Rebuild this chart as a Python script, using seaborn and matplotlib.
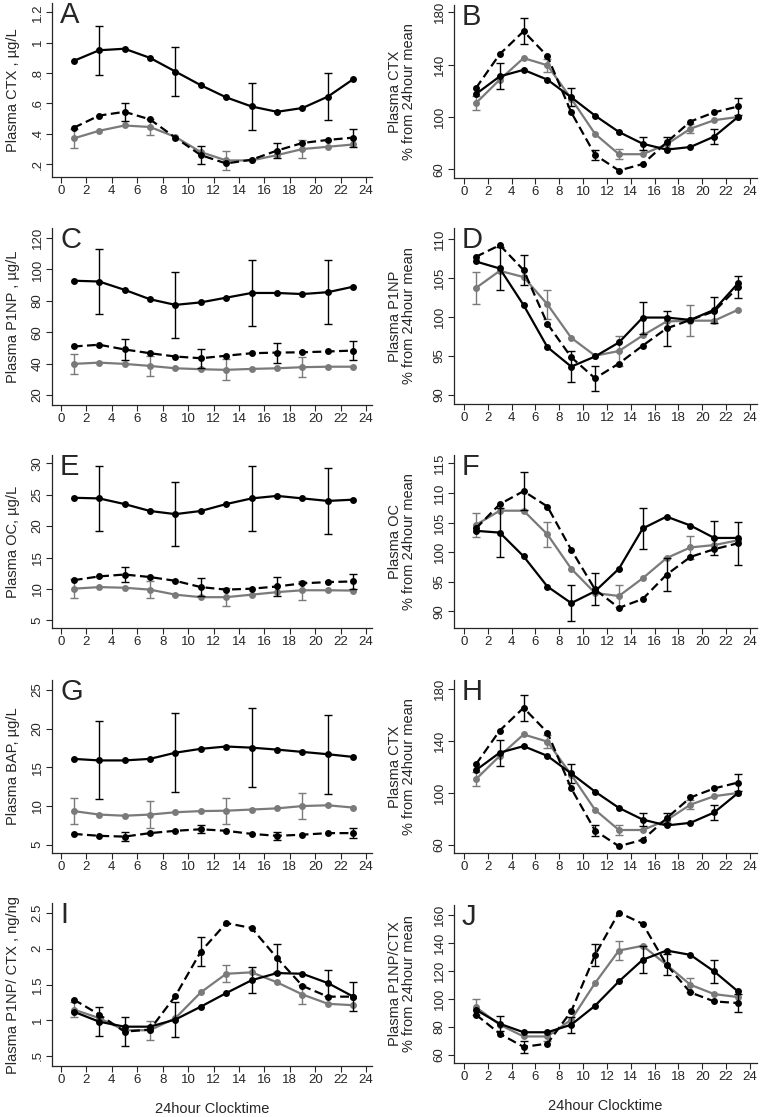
import matplotlib
matplotlib.use("Agg")
import matplotlib.pyplot as plt
import seaborn as sns

HOURS = [1, 3, 5, 7, 9, 11, 13, 15, 17, 19, 21, 23]
XTICKS = list(range(0, 25, 2))
# error bars are shown only every 6 hours, staggered per group
ERR_HOURS_SOLID = [3, 9, 15, 21]
ERR_HOURS_DASH = [5, 11, 17, 23]
ERR_HOURS_GREY = [1, 7, 13, 19]

# A: plasma CTX, ug/L
A_SOLID = [0.88, 0.95, 0.96, 0.90, 0.81, 0.72, 0.64, 0.58, 0.545, 0.57, 0.645, 0.76]
A_SOLID_ERR = [0.16, 0.16, 0.155, 0.155]
A_DASH = [0.44, 0.52, 0.545, 0.495, 0.375, 0.26, 0.205, 0.23, 0.29, 0.34, 0.36, 0.375]
A_DASH_ERR = [0.06, 0.06, 0.05, 0.06]
A_GREY = [0.37, 0.42, 0.455, 0.445, 0.38, 0.28, 0.225, 0.225, 0.26, 0.30, 0.315, 0.33]
A_GREY_ERR = [0.065, 0.055, 0.06, 0.06]

# B (and H): plasma CTX, % from 24 hour mean
B_SOLID = [117.5, 131, 136, 128.5, 115, 101, 88.5, 79.5, 75, 77, 85, 100]
B_SOLID_ERR = [10, 7, 5, 6]
B_DASH = [122, 148, 165.5, 146.5, 103.5, 71, 59, 64, 80.5, 96.5, 103.5, 108]
B_DASH_ERR = [10, 4, 4, 6.5]
B_GREY = [110.5, 128.5, 145, 139.5, 114, 87, 71.5, 71.5, 79, 91, 97.5, 100]
B_GREY_ERR = [5.5, 5, 4, 3.5]

# C: plasma P1NP, ug/L
C_SOLID = [92.8, 92.3, 87, 81, 77.4, 79, 82, 85, 85, 84.3, 85.5, 89]
C_SOLID_ERR = [20.7, 21, 21, 20.5]
C_DASH = [50.9, 52, 49, 46.6, 44.5, 43.4, 45, 46.6, 47, 47.2, 47.7, 48.3]
C_DASH_ERR = [6.7, 6, 6.4, 6.2]
C_GREY = [39.8, 40.6, 39.8, 38.5, 37, 36.4, 36, 36.6, 37, 37.7, 38, 38]
C_GREY_ERR = [6.6, 6.2, 6.6, 6.4]

# D: plasma P1NP, % from 24 hour mean
D_SOLID = [107.1, 106.2, 101.5, 96.1, 93.6, 94.9, 96.7, 99.9, 99.9, 99.6, 100.9, 104.3]
D_SOLID_ERR = [2.8, 2.0, 2.05, 1.7]
D_DASH = [107.7, 109.2, 106, 99.1, 94.8, 92.1, 94, 96.3, 98.5, 99.6, 100.7, 103.8]
D_DASH_ERR = [1.9, 1.6, 2.3, 1.4]
D_GREY = [103.7, 105.9, 105.1, 101.6, 97.3, 95.0, 95.6, 97.6, 99.4, 99.5, 99.5, 100.9]
D_GREY_ERR = [2.0, 1.9, 1.9, 2.0]

# E: plasma OC, ug/L
E_SOLID = [24.5, 24.4, 23.5, 22.4, 21.9, 22.4, 23.5, 24.4, 24.8, 24.4, 24.0, 24.2]
E_SOLID_ERR = [5.2, 5.1, 5.2, 5.2]
E_DASH = [11.4, 12.0, 12.3, 11.9, 11.3, 10.3, 9.9, 10.05, 10.4, 10.9, 11.1, 11.2]
E_DASH_ERR = [1.25, 1.4, 1.45, 1.25]
E_GREY = [10.05, 10.3, 10.2, 9.9, 9.1, 8.7, 8.7, 9.1, 9.5, 9.8, 9.8, 9.75]
E_GREY_ERR = [1.5, 1.4, 1.45, 1.5]

# F: plasma OC, % from 24 hour mean
F_SOLID = [103.6, 103.3, 99.3, 94.2, 91.4, 93.4, 97.2, 104.0, 106.0, 104.5, 102.4, 102.4]
F_SOLID_ERR = [4.15, 3.0, 3.5, 2.8]
F_DASH = [104.0, 108.1, 110.3, 107.7, 100.4, 93.7, 90.6, 92.1, 96.2, 99.2, 100.5, 101.5]
F_DASH_ERR = [3.2, 2.7, 2.8, 3.6]
F_GREY = [104.6, 107.0, 107.0, 103.0, 97.2, 93.1, 92.6, 95.6, 99.0, 100.8, 101.2, 102.0]
F_GREY_ERR = [2.0, 2.05, 1.9, 1.9]

# G: plasma BAP, ug/L
G_SOLID = [16.1, 15.9, 15.9, 16.1, 16.9, 17.4, 17.7, 17.55, 17.3, 17.0, 16.7, 16.35]
G_SOLID_ERR = [5.05, 5.1, 5.1, 5.1]
G_DASH = [6.4, 6.15, 6.05, 6.5, 6.8, 7.0, 6.8, 6.4, 6.15, 6.3, 6.5, 6.5]
G_DASH_ERR = [0.6, 0.5, 0.5, 0.6]
G_GREY = [9.35, 8.9, 8.75, 8.9, 9.2, 9.35, 9.4, 9.55, 9.7, 10.0, 10.1, 9.8]
G_GREY_ERR = [1.7, 1.7, 1.7, 1.65]

# I: plasma P1NP/CTX, ng/ng
I_SOLID = [1.12, 0.98, 0.91, 0.91, 1.01, 1.19, 1.38, 1.56, 1.66, 1.65, 1.52, 1.33]
I_SOLID_ERR = [0.2, 0.25, 0.18, 0.18]
I_DASH = [1.29, 1.08, 0.84, 0.87, 1.34, 1.96, 2.36, 2.29, 1.87, 1.48, 1.33, 1.33]
I_DASH_ERR = [0.2, 0.2, 0.2, 0.2]
I_GREY = [1.15, 1.03, 0.86, 0.86, 1.03, 1.39, 1.65, 1.67, 1.53, 1.36, 1.23, 1.21]
I_GREY_ERR = [0.1, 0.13, 0.12, 0.13]

# J: plasma P1NP/CTX, % from 24 hour mean
J_SOLID = [92.1, 82.1, 76, 76, 81.4, 95, 112.4, 127.9, 134.5, 131.4, 119.5, 105.2]
J_SOLID_ERR = [5.5, 5.7, 9.5, 8.3]
J_DASH = [88.6, 75, 65.5, 67.9, 91, 131.4, 161.7, 153.6, 124.3, 104.5, 98.1, 96.9]
J_DASH_ERR = [4.4, 8, 7.5, 6.3]
J_GREY = [94, 81.4, 73, 73, 85, 111.2, 134.5, 137.9, 124.3, 110, 103.3, 101.2]
J_GREY_ERR = [5.5, 3, 7, 5]

PCT = "% from 24hour mean"
GREY = "#7a7a7a"
TXT = "#262626"

W, H = 762, 1117
LEFT_COL = (52, 372, (-0.708, 24.47))
RIGHT_COL = (454, 757, (-0.839, 24.59))


def draw_series(ax, vals, errs, err_hours, color, ls):
    sns.lineplot(x=HOURS, y=vals, ax=ax, color=color, linestyle=ls, linewidth=1.6,
                 marker="o", markersize=5, markeredgewidth=0, errorbar=None)
    ey = [vals[HOURS.index(h)] for h in err_hours]
    ax.errorbar(err_hours, ey, yerr=errs, fmt="none", ecolor=color,
                elinewidth=1.0, capsize=3, capthick=1.0)


def make_panel(fig, letter, col, top, bottom, ylim, yticks, ytlabels, ylabel,
               solid, solid_err, dash, dash_err, grey, grey_err, xlabel=False):
    left, right, xlim = col
    ax = fig.add_axes([left / W, 1 - bottom / H, (right - left) / W, (bottom - top) / H])
    draw_series(ax, grey, grey_err, ERR_HOURS_GREY, GREY, "-")
    draw_series(ax, dash, dash_err, ERR_HOURS_DASH, "black", (0, (4, 2)))
    draw_series(ax, solid, solid_err, ERR_HOURS_SOLID, "black", "-")
    ax.set_xlim(*xlim)
    ax.set_ylim(*ylim)
    ax.set_xticks(XTICKS)
    ax.set_xticklabels([str(t) for t in XTICKS], fontsize=9.5)
    ax.set_yticks(yticks)
    ax.set_yticklabels(ytlabels, fontsize=9.5, rotation=90, va="center")
    ax.tick_params(direction="out", length=4, width=0.8, pad=2, colors=TXT)
    sns.despine(ax=ax)
    for s in ("left", "bottom"):
        ax.spines[s].set_linewidth(0.9)
        ax.spines[s].set_color(TXT)
    ax.set_ylabel(ylabel, fontsize=10.5, color=TXT, linespacing=1.0, va="center")
    if col is LEFT_COL:
        ax.yaxis.set_label_coords(-0.122, 0.5)
    else:
        ax.yaxis.set_label_coords(-0.17, 0.5)
    if xlabel:
        ax.set_xlabel("24hour Clocktime", fontsize=10.5, color=TXT, labelpad=11)
    else:
        ax.set_xlabel("")
    ax.text(0.025, 1.01, letter, transform=ax.transAxes, fontsize=21,
            va="top", ha="left")
    return ax


sns.set_style("ticks")
plt.rcParams["font.family"] = ["Liberation Sans", "DejaVu Sans"]

fig = plt.figure(figsize=(W / 100, H / 100), dpi=100)

make_panel(fig, "A", LEFT_COL, 3, 177, (0.116, 1.261), [0.2, 0.4, 0.6, 0.8, 1.0, 1.2],
           [".2", ".4", ".6", ".8", "1", "1.2"], "Plasma CTX , µg/L",
           A_SOLID, A_SOLID_ERR, A_DASH, A_DASH_ERR, A_GREY, A_GREY_ERR)
make_panel(fig, "B", RIGHT_COL, 5, 178, (53.3, 185.6), [60, 100, 140, 180],
           ["60", "100", "140", "180"], "Plasma CTX\n" + PCT,
           B_SOLID, B_SOLID_ERR, B_DASH, B_DASH_ERR, B_GREY, B_GREY_ERR)
make_panel(fig, "C", LEFT_COL, 228, 405, (13.6, 126.4), [20, 40, 60, 80, 100, 120],
           ["20", "40", "60", "80", "100", "120"], "Plasma P1NP , µg/L",
           C_SOLID, C_SOLID_ERR, C_DASH, C_DASH_ERR, C_GREY, C_GREY_ERR)
make_panel(fig, "D", RIGHT_COL, 228, 404, (88.8, 111.4), [90, 95, 100, 105, 110],
           ["90", "95", "100", "105", "110"], "Plasma P1NP\n" + PCT,
           D_SOLID, D_SOLID_ERR, D_DASH, D_DASH_ERR, D_GREY, D_GREY_ERR)
make_panel(fig, "E", LEFT_COL, 455, 628, (3.8, 31.3), [5, 10, 15, 20, 25, 30],
           ["5", "10", "15", "20", "25", "30"], "Plasma OC, µg/L",
           E_SOLID, E_SOLID_ERR, E_DASH, E_DASH_ERR, E_GREY, E_GREY_ERR)
make_panel(fig, "F", RIGHT_COL, 455, 628, (87.2, 116.4), [90, 95, 100, 105, 110, 115],
           ["90", "95", "100", "105", "110", "115"], "Plasma OC\n" + PCT,
           F_SOLID, F_SOLID_ERR, F_DASH, F_DASH_ERR, F_GREY, F_GREY_ERR)
make_panel(fig, "G", LEFT_COL, 680, 853, (3.93, 26.3), [5, 10, 15, 20, 25],
           ["5", "10", "15", "20", "25"], "Plasma BAP, µg/L",
           G_SOLID, G_SOLID_ERR, G_DASH, G_DASH_ERR, G_GREY, G_GREY_ERR)
make_panel(fig, "H", RIGHT_COL, 680, 853, (53.8, 186.9), [60, 100, 140, 180],
           ["60", "100", "140", "180"], "Plasma CTX\n" + PCT,
           B_SOLID, B_SOLID_ERR, B_DASH, B_DASH_ERR, B_GREY, B_GREY_ERR)
make_panel(fig, "I", LEFT_COL, 903, 1066, (0.36, 2.64), [0.5, 1.0, 1.5, 2.0, 2.5],
           [".5", "1", "1.5", "2", "2.5"], "Plasma P1NP/ CTX , ng/ng",
           I_SOLID, I_SOLID_ERR, I_DASH, I_DASH_ERR, I_GREY, I_GREY_ERR, xlabel=True)
make_panel(fig, "J", RIGHT_COL, 905, 1063, (54, 167.1), [60, 80, 100, 120, 140, 160],
           ["60", "80", "100", "120", "140", "160"], "Plasma P1NP/CTX\n" + PCT,
           J_SOLID, J_SOLID_ERR, J_DASH, J_DASH_ERR, J_GREY, J_GREY_ERR, xlabel=True)

fig.savefig("out.png", dpi=100, facecolor="white")
